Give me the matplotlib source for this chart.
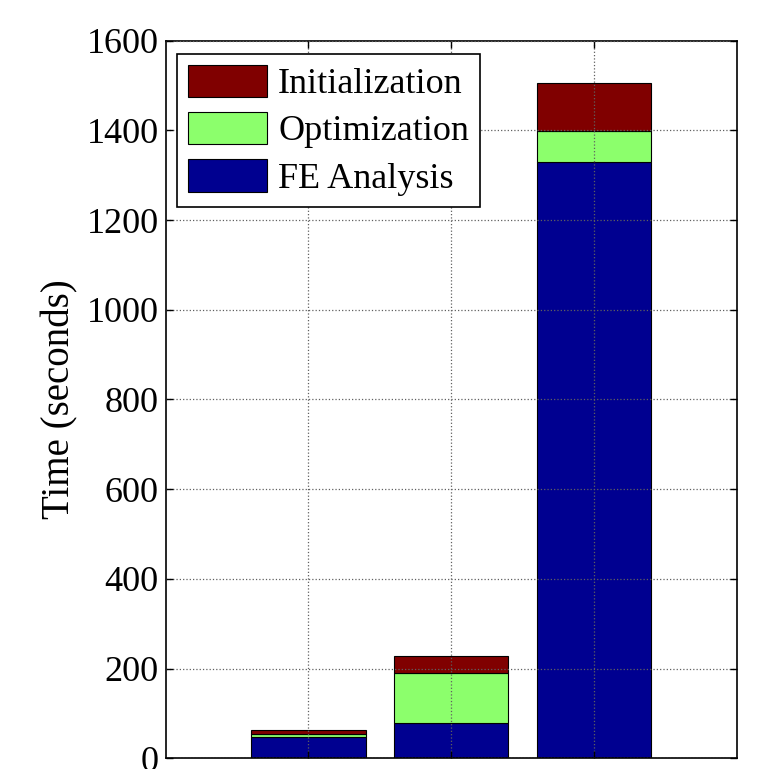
import numpy as np
import matplotlib
matplotlib.use('Agg')
from matplotlib import pyplot as plt

# run times per case, stacked bottom to top
cases = [1, 2, 3]
fe_analysis = [47, 78, 1329]
optimization = [7, 112, 69]
initialization = [10, 39, 107]

labels = ['Initialization', 'Optimization', 'FE Analysis']
colors = {'FE Analysis': '#000090', 'Optimization': '#8CFF6C', 'Initialization': '#800000'}

plt.rcParams['font.family'] = ['Liberation Serif', 'DejaVu Serif']

fig = plt.figure(figsize=(7.7, 7.69), dpi=100)
ax = fig.add_axes([0.215, 0.014, 0.742, 0.933])

fe = np.array(fe_analysis)
opt = np.array(optimization)
ini = np.array(initialization)

b1 = ax.bar(cases, fe, width=0.8, color=colors['FE Analysis'], edgecolor='black', linewidth=0.8, label='FE Analysis')
b2 = ax.bar(cases, opt, width=0.8, bottom=fe, color=colors['Optimization'], edgecolor='black', linewidth=0.8, label='Optimization')
b3 = ax.bar(cases, ini, width=0.8, bottom=fe + opt, color=colors['Initialization'], edgecolor='black', linewidth=0.8, label='Initialization')

ax.set_xlim(0, 4)
ax.set_ylim(0, 1600)
ax.set_xticks(cases)
ax.set_xticklabels([])
ax.set_yticks(np.arange(0, 1601, 200))
ax.tick_params(axis='both', direction='in', length=5, width=1, top=True, right=True, labelsize=26, pad=5)
ax.set_ylabel('Time (seconds)', fontsize=28, labelpad=6)

ax.grid(True, linestyle=':', color='#606060', linewidth=0.9)
ax.set_axisbelow(False)
for s in ax.spines.values():
    s.set_linewidth(1.2)

leg = ax.legend(handles=[b3, b2, b1], labels=labels, loc='upper left', bbox_to_anchor=(0.02, 0.982),
                fontsize=26, fancybox=False, edgecolor='black', framealpha=1,
                handlelength=2.2, handleheight=1.0, handletextpad=0.3, labelspacing=0.3,
                borderpad=0.3, borderaxespad=0)
leg.get_frame().set_linewidth(1.2)

plt.savefig('out.png', dpi=100)
